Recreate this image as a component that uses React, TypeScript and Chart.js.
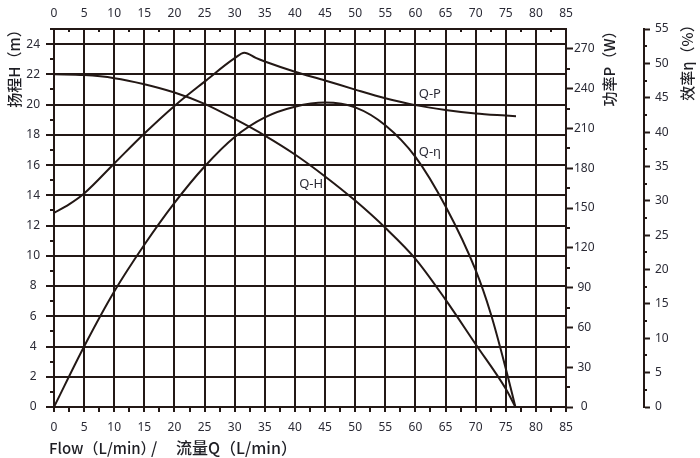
import React, { useEffect, useRef } from 'react';
import { Chart, registerables } from 'chart.js';

Chart.register(...registerables);

// ---- axis ticks ----
const flowTicks = [0, 5, 10, 15, 20, 25, 30, 35, 40, 45, 50, 55, 60, 65, 70, 75, 80, 85];
const headTicks = [0, 2, 4, 6, 8, 10, 12, 14, 16, 18, 20, 22, 24];
const powerTicks = [0, 30, 60, 90, 120, 150, 180, 210, 240, 270];
const effTicks = [0, 5, 10, 15, 20, 25, 30, 35, 40, 45, 50, 55];

// ---- curves ----
const flowH = [0, 5, 10, 15, 20, 25, 30, 35, 40, 45, 50, 55, 60, 65, 70, 75, 76.6];
const headH = [22.0, 21.95, 21.75, 21.35, 20.8, 20.05, 19.05, 17.95, 16.7, 15.25, 13.65, 11.85, 9.8, 7.1, 4.15, 1.2, 0];

const flowP = [0, 2.5, 5, 10, 15, 20, 25, 30, 31.6, 33.5, 35, 40, 45, 50, 55, 60, 65, 70, 75, 76.7];
const powerP = [146.4, 152.8, 161.0, 183.6, 206.2, 227.0, 245.3, 263.0, 267.1, 263.2, 260.5, 252.8, 246.2, 239.3, 232.8, 227.6, 224.0, 221.3, 219.7, 219.2];

const flowEta = [0, 5, 10, 15, 20, 25, 30, 35, 40, 45, 50, 55, 60, 65, 70, 72.5, 75, 76.6];
const effEta = [0, 8.8, 16.8, 23.6, 29.7, 35.0, 39.3, 42.15, 43.7, 44.3, 43.6, 41.0, 36.4, 29.2, 19.9, 13.6, 5.6, 0];

const curveLabels = [
  { text: 'Q-P', q: 62.4, h: 20.7 },
  { text: 'Q-η', q: 62.4, h: 16.85 },
  { text: 'Q-H', q: 42.7, h: 14.75 },
];

const INK = '#231815';
const TEXT = '#2b2b36';
const FONT = "'Noto Sans', 'Noto Sans CJK SC', sans-serif";
const CJK = "'Noto Sans CJK SC', 'Noto Sans', sans-serif";

const mids = (a: number[]) => a.slice(0, -1).map((v, i) => (v + a[i + 1]) / 2);
const flowAll = [...flowTicks, ...mids(flowTicks)].sort((a, b) => a - b);
const headMinor = [...mids(headTicks), 25];
const powerMinor = mids(powerTicks);
const effMinor = mids(effTicks);
const flowMinor = mids(flowTicks);

const pts = (xs: number[], ys: number[]) => xs.map((x, i) => ({ x, y: ys[i] }));
const setTicks = (vals: number[]) => (scale: any) => {
  scale.ticks = vals.map((v) => ({ value: v }));
};

const decor = {
  id: 'decor',
  afterDraw(chart: any) {
    const ctx = chart.ctx as CanvasRenderingContext2D;
    const { x, x2, y, y1, y2 } = chart.scales;
    const area = chart.chartArea;
    ctx.save();
    ctx.strokeStyle = INK;
    ctx.lineWidth = 2;
    const h = (a: number, b: number, py: number) => {
      const yy = Math.round(py);
      ctx.beginPath(); ctx.moveTo(a, yy); ctx.lineTo(b, yy); ctx.stroke();
    };
    const v = (px: number, a: number, b: number) => {
      const xx = Math.round(px);
      ctx.beginPath(); ctx.moveTo(xx, a); ctx.lineTo(xx, b); ctx.stroke();
    };
    headMinor.forEach((t) => h(y.right - 4, y.right, y.getPixelForValue(t)));
    powerMinor.forEach((t) => h(y1.left, y1.left + 4, y1.getPixelForValue(t)));
    effMinor.forEach((t) => h(y2.left, y2.left + 3, y2.getPixelForValue(t)));
    flowMinor.forEach((t) => v(x2.getPixelForValue(t), area.top, area.top + 3));

    ctx.fillStyle = TEXT;
    ctx.font = `13px ${FONT}`;
    ctx.textAlign = 'center';
    ctx.textBaseline = 'middle';
    curveLabels.forEach((l) => ctx.fillText(l.text, x.getPixelForValue(l.q), y.getPixelForValue(l.h)));

    const vText = (text: string, cx: number, cy: number) => {
      ctx.save();
      ctx.translate(cx, cy);
      ctx.rotate(-Math.PI / 2);
      ctx.textAlign = 'center';
      ctx.textBaseline = 'middle';
      ctx.fillText(text, 0, 0);
      ctx.restore();
    };
    ctx.fillStyle = '#1e1e24';
    ctx.font = `500 15px ${CJK}`;
    vText('扬程H（m）', 14, 65);
    vText('功率P（W）', 609, 65);
    vText('效率η（%）', 687, 59);
    ctx.textAlign = 'left';
    ctx.textBaseline = 'middle';
    ctx.font = `500 15px ${CJK}`;
    ctx.fillText('Flow（L/min）', 49, 448);
    ctx.font = `500 16px ${CJK}`;
    ctx.fillText('/', 151, 448);
    ctx.fillText('流量Q（L/min）', 176, 448);
    ctx.restore();
  },
};

export default function App() {
  const ref = useRef<HTMLCanvasElement>(null);
  useEffect(() => {
    if (!ref.current) return;
    const lineDs = (label: string, data: any[], axis: string) => ({
      label,
      data,
      yAxisID: axis,
      xAxisID: 'x',
      borderColor: INK,
      borderWidth: 2,
      pointRadius: 0,
      fill: false,
      cubicInterpolationMode: 'monotone' as const,
    });
    const tickFont = { family: FONT, size: 12 };
    const chart = new Chart(ref.current, {
      type: 'line',
      data: {
        datasets: [
          lineDs('Q-H', pts(flowH, headH), 'y'),
          lineDs('Q-P', pts(flowP, powerP), 'y1'),
          lineDs('Q-η', pts(flowEta, effEta), 'y2'),
        ],
      },
      options: {
        responsive: false,
        animation: false,
        events: [],
        layout: { padding: 0 },
        plugins: { legend: { display: false }, tooltip: { enabled: false } },
        scales: {
          x: {
            type: 'linear',
            position: 'bottom',
            min: 0,
            max: 85,
            afterBuildTicks: setTicks(flowAll),
            afterFit: (s: any) => { s.height = 51; },
            grid: {
              color: (c: any) => (c.tick && c.tick.value % 5 === 0 ? INK : 'rgba(0,0,0,0)'),
              lineWidth: 2,
              tickLength: 5,
              tickColor: INK,
              tickWidth: 2,
            },
            border: { display: true, color: INK, width: 2 },
            ticks: {
              autoSkip: false,
              maxRotation: 0,
              padding: 8,
              color: TEXT,
              font: tickFont,
              callback: (val: any) => (Number(val) % 5 === 0 ? String(val) : ''),
            },
          },
          x2: {
            type: 'linear',
            position: 'top',
            min: 0,
            max: 85,
            afterBuildTicks: setTicks(flowTicks),
            afterFit: (s: any) => { s.height = 29; },
            grid: { drawOnChartArea: false, drawTicks: false },
            border: { display: true, color: INK, width: 2 },
            ticks: { autoSkip: false, maxRotation: 0, padding: 8, color: TEXT, font: tickFont },
          },
          y: {
            type: 'linear',
            position: 'left',
            min: 0,
            max: 25,
            afterBuildTicks: setTicks(headTicks),
            afterFit: (s: any) => { s.width = 54; },
            grid: { color: INK, lineWidth: 2, tickLength: 8, tickColor: INK, tickWidth: 2 },
            border: { display: true, color: INK, width: 2 },
            ticks: { padding: 6, crossAlign: 'center', color: TEXT, font: tickFont },
          },
          y1: {
            type: 'linear',
            position: 'right',
            min: 0,
            max: 285,
            afterBuildTicks: setTicks(powerTicks),
            afterFit: (s: any) => { s.width = 78; },
            grid: { drawOnChartArea: false, tickLength: 7, tickColor: INK, tickWidth: 2 },
            border: { display: true, color: INK, width: 2 },
            ticks: { padding: 1, crossAlign: 'center', color: TEXT, font: tickFont },
          },
          y2: {
            type: 'linear',
            position: 'right',
            min: 0,
            max: 55,
            afterBuildTicks: setTicks(effTicks),
            afterFit: (s: any) => { s.width = 56; },
            grid: { drawOnChartArea: false, tickLength: 6, tickColor: INK, tickWidth: 2 },
            border: { display: true, color: INK, width: 2 },
            ticks: { padding: 5, crossAlign: 'near', color: TEXT, font: tickFont },
          },
        },
      },
      plugins: [decor],
    } as any);
    return () => chart.destroy();
  }, []);
  return (
    <div style={{ position: 'absolute', left: 0, top: 0, width: 700, height: 458, background: '#fff' }}>
      <canvas ref={ref} width={700} height={458} style={{ display: 'block', width: 700, height: 458 }} />
    </div>
  );
}
